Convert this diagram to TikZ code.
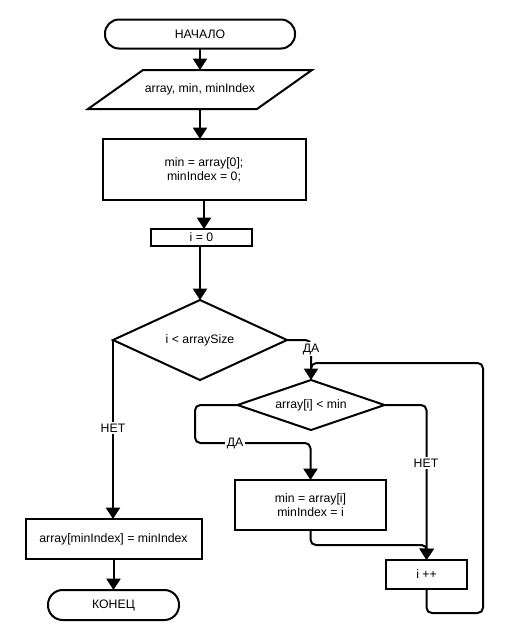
\documentclass[tikz,border=0pt]{standalone}
\usepackage{fontspec}
\setmainfont{Liberation Sans}
\usetikzlibrary{shapes.geometric,arrows.meta}
\begin{document}
\begin{tikzpicture}[x=0.75pt,y=-0.75pt,line width=1.5pt,
  every node/.style={font=\fontsize{9.2}{10.5}\selectfont,inner sep=0pt,outer sep=0pt},
  term/.style={draw,rectangle,rounded corners=10.5pt},
  proc/.style={draw,rectangle,align=center},
  dec/.style={draw,diamond},
  lbl/.style={fill=white,inner sep=1.5pt},
  arr/.style={-{Triangle[length=8.5pt,width=10.5pt]},rounded corners=4pt},
  ln/.style={rounded corners=4pt}]
\useasboundingbox (0,0) rectangle (507,640);
% nodes
\node[term,minimum width=190*0.75pt,minimum height=29*0.75pt] (start) at (200,34) {НАЧАЛО};
\node[minimum width=170*0.75pt,minimum height=39*0.75pt] (io) at (200,89.5) {array, min, minIndex};
\draw (88,109) -- (143,70) -- (312,70) -- (257,109) -- cycle;
\node[proc,minimum width=203*0.75pt,minimum height=61*0.75pt] (init) at (204,169.5) {min = array[0];\\ minIndex = 0;};
\node[proc,minimum width=101*0.75pt,minimum height=17*0.75pt] (i0) at (201.5,237.5) {i = 0};
\node[dec,shape aspect=2.175,minimum width=174*0.75pt,minimum height=80*0.75pt] (d1) at (200,340) {i < arraySize};
\node[proc,minimum width=176*0.75pt,minimum height=40*0.75pt] (res) at (113.5,539) {array[minIndex] = minIndex};
\node[term,minimum width=131*0.75pt,minimum height=30*0.75pt,rounded corners=11pt] (end) at (113.5,605) {КОНЕЦ};
\node[dec,shape aspect=2.94,minimum width=147*0.75pt,minimum height=50*0.75pt] (d2) at (311,405) {array[i] < min};
\node[proc,minimum width=151*0.75pt,minimum height=50*0.75pt] (upd) at (310.5,505) {min = array[i]\\ minIndex = i};
\node[proc,minimum width=81*0.75pt,minimum height=29*0.75pt] (inc) at (426.5,574.5) {i ++};
% helper coordinates
\coordinate (c1) at (195,443);
\coordinate (c2) at (427,545);
\coordinate (loopR) at (483,613);
\coordinate (loopT) at (483,363);
% connectors
\draw[arr] (start.south) -- (io.north);
\draw[arr] (io.south) -- (io.south |- init.north);
\draw[arr] (init.south) -- (init.south |- i0.north);
\draw[arr] (i0.south -| d1.north) -- (d1.north);
\draw[arr] (d1.west) -- (d1.west |- res.north);
\draw[arr] (res.south) -- (end.north);
\draw[arr] (d1.east) -| (d2.north);
\draw[ln] (inc.south) |- (loopR) -- (loopT) -- (loopT -| d2.north) -- ++(0,7);
\draw[arr] (d2.west) -| (c1) -| (upd.north);
\draw[arr] (d2.east) -| (inc.north);
\draw[arr] (upd.south) |- (c2) -- (inc.north);
% labels
\node[lbl] at (113,428) {НЕТ};
\node[lbl] at (311,349) {ДА};
\node[lbl] at (235,443) {ДА};
\node[lbl] at (426,463) {НЕТ};
\end{tikzpicture}
\end{document}
